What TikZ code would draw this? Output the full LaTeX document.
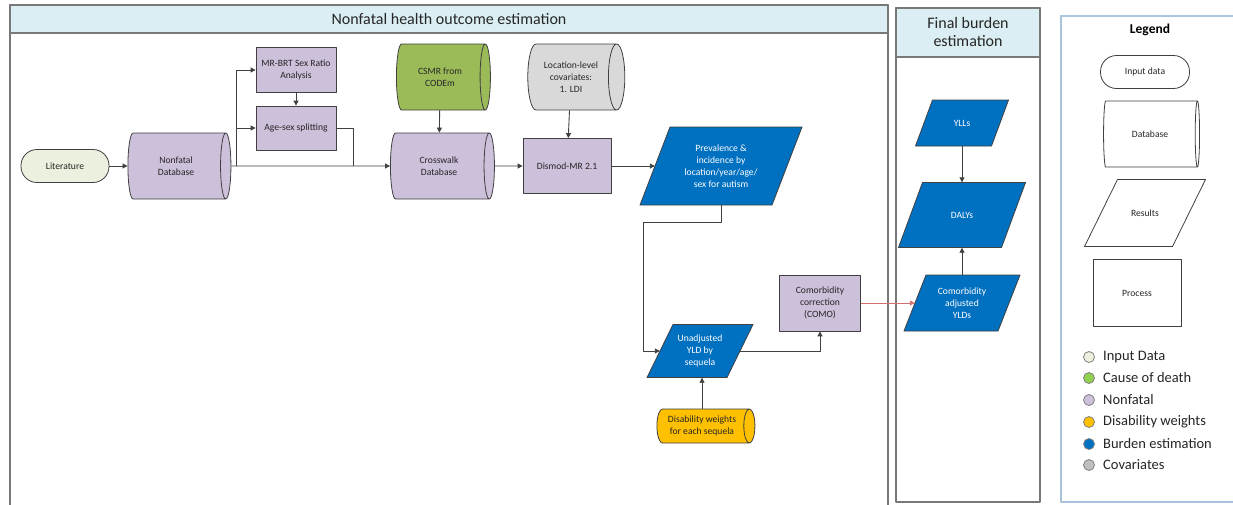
\documentclass[tikz,border=0pt]{standalone}
\usepackage{fontspec}
\setmainfont{Carlito}
\usetikzlibrary{shapes.geometric,arrows.meta}
\definecolor{hdrblue}{RGB}{218,238,243}
\definecolor{inputgreen}{RGB}{235,241,222}
\definecolor{codgreen}{RGB}{155,187,89}
\definecolor{nflilac}{RGB}{204,192,218}
\definecolor{dwyellow}{RGB}{255,192,0}
\definecolor{burdenblue}{RGB}{0,112,192}
\definecolor{covgray}{RGB}{217,217,217}
\definecolor{dotgray}{RGB}{191,191,191}
\definecolor{dotgreen}{RGB}{146,208,80}
\definecolor{linegray}{RGB}{64,64,64}
\definecolor{panelgray}{RGB}{120,120,120}
\definecolor{legendline}{RGB}{170,195,220}
\definecolor{comored}{RGB}{214,112,112}

% parallelogram: name, centre, width, height, slant, fill, text colour, text
\newcommand\slantbox[8]{%
  \draw[result,fill=#6,shift={(#2)}] (-#3/2,#4/2) -- ++(#3-#5,0) -- ++(#5,-#4) -- ++(-#3+#5,0) -- cycle;
  \node[small,text=#7,minimum width={(#3-#5)*1pt},minimum height=#4pt] (#1) at (#2) {#8};}

\begin{document}
\begin{tikzpicture}[x=1pt,y=-1pt,>={Triangle[length=5pt,width=5pt]},line join=round,
  small/.style={font=\fontsize{9.6}{12}\selectfont,text=black!85,align=center,inner sep=1pt},
  inputbox/.style={small,draw=linegray,line width=.8pt,rectangle,rounded corners=16pt,minimum width=88pt,minimum height=33pt},
  dbase/.style={small,draw=linegray,line width=.8pt,cylinder,shape aspect=.5,minimum width=66pt},
  procbox/.style={small,draw=linegray,line width=.8pt,rectangle},
  result/.style={draw=linegray,line width=.8pt},
  link/.style={linegray,line width=.9pt},
  keydot/.style={circle,draw=gray,line width=.8pt,minimum size=11pt,inner sep=0pt},
  keytext/.style={anchor=west,font=\fontsize{14.5}{16}\selectfont,text=black!85,inner sep=0pt}]
  \useasboundingbox (0,0) rectangle (1233,504);

  % swim lanes
  \draw[panelgray,line width=1.2pt,fill=white] (10,5) rectangle (888,512);
  \draw[panelgray,line width=1.2pt,fill=hdrblue] (10,5) rectangle (888,33);
  \node[font=\fontsize{16}{18}\selectfont,text=black!85] (lanenf) at (449,19) {Nonfatal health outcome estimation};
  \draw[panelgray,line width=1.2pt,fill=white] (896,8) rectangle (1040,502);
  \draw[panelgray,line width=1.2pt,fill=hdrblue] (896,8) rectangle (1040,57);
  \node[font=\fontsize{16}{18}\selectfont,text=black!85,align=center] (lanefb) at (968,32) {Final burden\\estimation};
  \draw[legendline,line width=1.2pt,fill=white] (1061,16) rectangle (1240,502);
  \node[font=\bfseries\fontsize{13.5}{15}\selectfont] (legend) at (1150,30) {Legend};

  % nonfatal modelling
  \node[inputbox,fill=inputgreen] (lit) at (65,166) {Literature};
  \node[dbase,fill=nflilac,minimum height=103pt] (nfdb) at (176,166) {Nonfatal\\Database};
  \node[procbox,fill=nflilac,minimum width=80pt,minimum height=45pt] (mrbrt) at (296,70) {MR-BRT Sex Ratio\\Analysis};
  \node[procbox,fill=nflilac,minimum width=80pt,minimum height=44pt] (agesex) at (296,128) {Age-sex splitting};
  \node[dbase,fill=codgreen,minimum height=94pt] (csmr) at (440,77) {CSMR from\\CODEm};
  \node[dbase,fill=nflilac,minimum height=104pt] (xwalk) at (439,166) {Crosswalk\\Database};
  \node[dbase,fill=covgray,minimum height=97pt] (covar) at (571,77) {Location-level\\covariates:\\1. LDI};
  \node[procbox,fill=nflilac,minimum width=88pt,minimum height=55pt] (dismod) at (567,166) {Dismod-MR 2.1};
  \slantbox{prev}{721,166}{162}{78}{30}{burdenblue}{white}{Prevalence \&\\incidence by\\location/year/age/\\sex for autism}
  \slantbox{uyld}{700,351}{106}{53}{26}{burdenblue}{white}{Unadjusted\\YLD by\\sequela}
  \node[procbox,fill=nflilac,minimum width=81pt,minimum height=56pt] (como) at (820,303) {Comorbidity\\correction\\(COMO)};
  \node[dbase,fill=dwyellow,minimum height=98pt,minimum width=34pt] (dw) at (702,426) {Disability weights\\for each sequela};

  % final burden
  \slantbox{yll}{962,123}{93}{46}{17}{burdenblue}{white}{YLLs}
  \slantbox{daly}{962,215}{127}{65}{24}{burdenblue}{white}{DALYs}
  \slantbox{cadj}{962,303}{116}{56}{22}{burdenblue}{white}{Comorbidity\\adjusted\\YLDs}

  \coordinate (fork) at (236,166);
  \coordinate (join) at (353,166);
  \coordinate (bend) at (643,222);
  \draw[link,->] (lit) -- (nfdb);
  \draw[link,->] (nfdb) -- (xwalk);
  \draw[link,->] (fork) |- (mrbrt.west);
  \draw[link,->] (fork) |- (agesex.west);
  \draw[link,->] (mrbrt) -- (agesex);
  \draw[link] (agesex.east) -| (join);
  \draw[link,->] (csmr) -- (xwalk);
  \draw[link,->] (xwalk) -- (dismod);
  \draw[link,->] (covar) -- (dismod);
  \draw[link,->] (dismod) -- (prev);
  \draw[link,->] (prev.south) |- (bend) |- (uyld.west);
  \draw[link,->] (uyld.east) -| (como.south);
  \draw[link,->] (dw.north) -- (dw.north |- uyld.south);
  \draw[link,comored,->] (como) -- (cadj);
  \draw[link,->] (yll) -- (daly);
  \draw[link,->] (cadj) -- (daly);

  % legend
  \node[inputbox,minimum width=89pt] (keyin) at (1145,72) {Input data};
  \node[dbase,minimum height=96pt] (keydb) at (1150,134) {Database};
  \slantbox{keyres}{1145,213}{121}{67}{33}{white}{black!85}{Results}
  \node[procbox,minimum width=88pt,minimum height=67pt] (keyproc) at (1137,293) {Process};
  \foreach \y/\col/\txt in {357/inputgreen/Input Data,378/dotgreen/Cause of death,400/nflilac/Nonfatal,
      422/dwyellow/Disability weights,444/burdenblue/Burden estimation,465/dotgray/Covariates}{
    \node[keydot,fill=\col] (dot\y) at (1089,\y) {};
    \node[keytext] (txt\y) at (1103,\y) {\txt};
  }
\end{tikzpicture}
\end{document}
